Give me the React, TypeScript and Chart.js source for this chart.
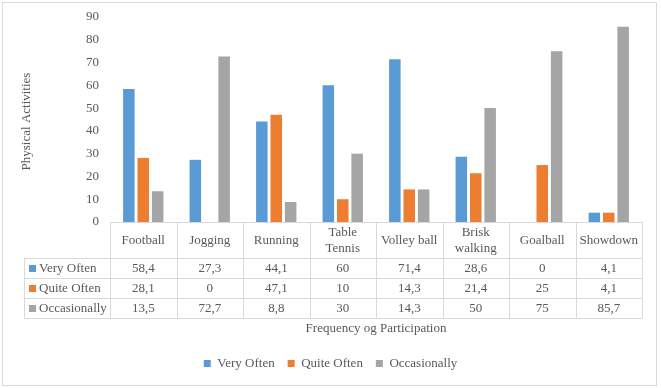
import React, { useEffect, useRef } from "react";
import { Chart, registerables } from "chart.js";

Chart.register(...registerables);

const categories: string[][] = [
  ["Football"],
  ["Jogging"],
  ["Running"],
  ["Table", "Tennis"],
  ["Volley ball"],
  ["Brisk", "walking"],
  ["Goalball"],
  ["Showdown"],
];
const veryOften = [58.4, 27.3, 44.1, 60, 71.4, 28.6, 0, 4.1];
const quiteOften = [28.1, 0, 47.1, 10, 14.3, 21.4, 25, 4.1];
const occasionally = [13.5, 72.7, 8.8, 30, 14.3, 50, 75, 85.7];
const seriesNames = ["Very Often", "Quite Often", "Occasionally"];
const seriesColors = ["#5B9BD5", "#ED7D31", "#A5A5A5"];
const yTitle = "Physical Activities";
const xTitle = "Frequency og Participation";

const FONT = "'Liberation Serif', 'DejaVu Serif', serif";
const TEXT = "#595959";
const GRID = "#d9d9d9";

const fmt = (v: number) => String(v).replace(".", ",");

const tablePlugin = {
  id: "dataTable",
  beforeDraw(chart: any) {
    const ctx = chart.ctx;
    ctx.save();
    ctx.fillStyle = "#ffffff";
    ctx.fillRect(0, 0, chart.width, chart.height);
    ctx.strokeStyle = GRID;
    ctx.lineWidth = 1;
    ctx.strokeRect(2.5, 2.5, chart.width - 7, chart.height - 5);
    ctx.restore();
  },
  afterDraw(chart: any) {
    const ctx = chart.ctx;
    const xs = chart.scales.x;
    const area = chart.chartArea;
    const top = Math.round(area.bottom);
    const headerH = 36;
    const rowH = 20;
    const labelLeft = 24;
    const n = chart.data.labels.length;
    const left = Math.round(area.left);
    const right = Math.round(area.right);
    const w = (area.right - area.left) / n;
    const datasets = chart.data.datasets;
    const bottom = top + headerH + rowH * datasets.length;

    ctx.save();
    ctx.strokeStyle = GRID;
    ctx.lineWidth = 1;
    const line = (x1: number, y1: number, x2: number, y2: number) => {
      ctx.beginPath();
      ctx.moveTo(x1, y1);
      ctx.lineTo(x2, y2);
      ctx.stroke();
    };
    line(left, top + 0.5, right, top + 0.5);
    for (let i = 0; i <= datasets.length; i++) {
      const y = top + headerH + i * rowH + 0.5;
      line(labelLeft, y, right, y);
    }
    for (let i = 0; i <= n; i++) {
      const xv = Math.round(xs.getPixelForValue(i) - w / 2) + 0.5;
      line(xv, top, xv, bottom);
    }
    line(labelLeft + 0.5, top + headerH, labelLeft + 0.5, bottom);

    ctx.fillStyle = TEXT;
    ctx.font = `13px ${FONT}`;
    ctx.textAlign = "center";
    ctx.textBaseline = "middle";
    chart.data.labels.forEach((lab: string[], i: number) => {
      const cx = xs.getPixelForValue(i);
      const lines = Array.isArray(lab) ? lab : [lab];
      const lh = 16;
      const start = top + headerH / 2 - ((lines.length - 1) * lh) / 2 + 1;
      lines.forEach((t: string, j: number) => ctx.fillText(t, cx, start + j * lh));
    });
    datasets.forEach((ds: any, r: number) => {
      const cy = top + headerH + r * rowH + rowH / 2 + 1;
      ds.data.forEach((v: number, i: number) => {
        ctx.fillText(fmt(v), xs.getPixelForValue(i), cy);
      });
      ctx.fillStyle = ds.backgroundColor;
      ctx.fillRect(labelLeft + 5, cy - 4, 7, 7);
      ctx.fillStyle = TEXT;
      ctx.textAlign = "left";
      ctx.fillText(ds.label, labelLeft + 15, cy);
      ctx.textAlign = "center";
    });

    ctx.fillText(xTitle, (area.left + area.right) / 2, bottom + 11);

    ctx.translate(27, (area.top + area.bottom) / 2 + 2);
    ctx.rotate(-Math.PI / 2);
    ctx.fillText(yTitle, 0, 0);
    ctx.restore();
  },
};

export default function App() {
  const ref = useRef<HTMLCanvasElement | null>(null);
  useEffect(() => {
    document.body.style.margin = "0";
    if (!ref.current) return;
    const chart = new Chart(ref.current, {
      type: "bar",
      data: {
        labels: categories as any,
        datasets: [veryOften, quiteOften, occasionally].map((d, i) => ({
          label: seriesNames[i],
          data: d,
          backgroundColor: seriesColors[i],
          borderWidth: 0,
          categoryPercentage: 0.65,
          barPercentage: 0.8,
        })),
      },
      options: {
        animation: false,
        responsive: false,
        maintainAspectRatio: false,
        layout: { padding: { top: 17, right: 19, bottom: 8, left: 19 } },
        font: { family: FONT },
        scales: {
          x: {
            ticks: { display: false },
            grid: { display: false },
            border: { display: false },
            afterFit: (s: any) => {
              s.height = 122;
            },
          },
          y: {
            min: 0,
            max: 90,
            ticks: {
              stepSize: 10,
              color: TEXT,
              font: { family: FONT, size: 13 },
              padding: 3,
            },
            grid: { display: false, drawTicks: true, tickLength: 8 },
            border: { display: false },
            afterFit: (s: any) => {
              s.width = 91;
            },
          },
        },
        plugins: {
          tooltip: { enabled: false },
          legend: {
            position: "bottom",
            labels: {
              boxWidth: 7,
              boxHeight: 7,
              padding: 13,
              color: TEXT,
              font: { family: FONT, size: 13 },
            },
          },
        },
      },
      plugins: [tablePlugin],
    });
    return () => chart.destroy();
  }, []);
  return (
    <div style={{ width: 661, height: 388 }}>
      <canvas ref={ref} width={661} height={388} style={{ display: "block" }} />
    </div>
  );
}
